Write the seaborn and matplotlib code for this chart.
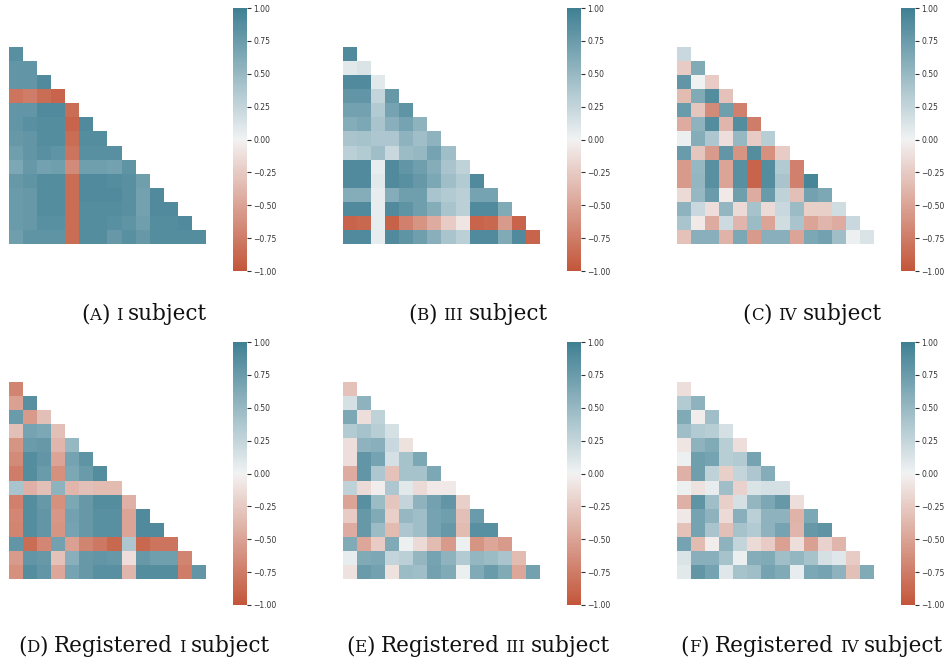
import numpy as np
import pandas as pd
import matplotlib
matplotlib.use("Agg")
import matplotlib.pyplot as plt
import seaborn as sns
from matplotlib.offsetbox import TextArea, HPacker, AnchoredOffsetbox, DrawingArea

# ---- data: lower-triangle rows (row i holds correlations with columns 0..i-1) ----
subject_i = [
    [0.85],
    [0.80, 0.80],
    [0.80, 0.80, 0.90],
    [-0.80, -0.75, -0.85, -0.90],
    [0.80, 0.80, 0.90, 0.90, -0.85],
    [0.80, 0.85, 0.88, 0.88, -0.90, 0.90],
    [0.78, 0.80, 0.88, 0.88, -0.85, 0.88, 0.88],
    [0.72, 0.80, 0.85, 0.82, -0.80, 0.85, 0.85, 0.85],
    [0.65, 0.78, 0.70, 0.72, -0.65, 0.72, 0.72, 0.70, 0.82],
    [0.78, 0.82, 0.88, 0.88, -0.85, 0.90, 0.90, 0.88, 0.85, 0.72],
    [0.75, 0.78, 0.88, 0.88, -0.85, 0.90, 0.90, 0.90, 0.85, 0.70, 0.90],
    [0.75, 0.78, 0.88, 0.88, -0.85, 0.88, 0.88, 0.88, 0.85, 0.70, 0.90, 0.90],
    [0.75, 0.78, 0.85, 0.85, -0.85, 0.88, 0.88, 0.85, 0.82, 0.72, 0.88, 0.88, 0.90],
    [0.72, 0.82, 0.82, 0.82, -0.85, 0.88, 0.88, 0.78, 0.85, 0.78, 0.88, 0.88, 0.88, 0.88],
]
subject_iii = [
    [0.90],
    [0.08, 0.12],
    [0.90, 0.90, 0.08],
    [0.80, 0.80, 0.25, 0.78],
    [0.70, 0.70, 0.35, 0.68, 0.82],
    [0.60, 0.65, 0.40, 0.58, 0.68, 0.55],
    [0.40, 0.42, 0.38, 0.38, 0.55, 0.45, 0.55],
    [0.30, 0.35, 0.45, 0.22, 0.48, 0.50, 0.68, 0.45],
    [0.90, 0.90, 0.05, 0.90, 0.80, 0.72, 0.60, 0.40, 0.28],
    [0.90, 0.90, 0.08, 0.90, 0.85, 0.78, 0.65, 0.45, 0.35, 0.90],
    [0.60, 0.60, 0.05, 0.60, 0.72, 0.72, 0.40, 0.35, 0.30, 0.68, 0.68],
    [0.90, 0.90, 0.05, 0.90, 0.82, 0.72, 0.60, 0.40, 0.30, 0.90, 0.90, 0.62],
    [-0.90, -0.88, 0.05, -0.92, -0.72, -0.60, -0.45, -0.25, -0.08, -0.90, -0.88, -0.55, -0.90],
    [0.90, 0.90, 0.05, 0.90, 0.82, 0.72, 0.58, 0.40, 0.30, 0.90, 0.90, 0.62, 0.90, -0.90],
]
subject_iv = [
    [0.22],
    [-0.25, 0.62],
    [0.80, 0.00, -0.25],
    [-0.35, 0.62, 0.88, -0.30],
    [0.75, -0.28, -0.65, 0.72, -0.72],
    [-0.45, 0.55, 0.88, -0.38, 0.88, -0.75],
    [0.03, 0.60, 0.38, -0.12, 0.50, -0.25, 0.32],
    [0.75, -0.28, -0.55, 0.80, -0.60, 0.88, -0.62, -0.25],
    [-0.55, 0.50, 0.85, -0.50, 0.85, -0.90, 0.88, 0.35, -0.72],
    [-0.55, 0.52, 0.85, -0.50, 0.85, -0.90, 0.88, 0.40, -0.72, 0.95],
    [-0.15, 0.50, 0.75, -0.05, 0.72, -0.45, 0.75, 0.28, -0.32, 0.70, 0.65],
    [0.55, 0.22, -0.12, 0.52, -0.15, 0.42, -0.15, 0.22, 0.48, -0.22, -0.22, 0.18],
    [0.40, -0.05, -0.45, 0.20, -0.38, 0.48, -0.50, 0.18, 0.40, -0.50, -0.38, -0.45, 0.22],
    [-0.30, 0.58, 0.58, -0.40, 0.65, -0.55, 0.58, 0.58, -0.50, 0.65, 0.70, 0.45, 0.02, 0.12],
]
registered_i = [
    [-0.70],
    [-0.52, 0.85],
    [0.75, -0.55, -0.32],
    [-0.32, 0.68, 0.65, -0.32],
    [-0.60, 0.75, 0.78, -0.38, 0.50],
    [-0.65, 0.88, 0.80, -0.50, 0.68, 0.82],
    [-0.75, 0.88, 0.75, -0.62, 0.65, 0.75, 0.88],
    [0.40, -0.42, -0.32, 0.55, -0.38, -0.32, -0.35, -0.35],
    [-0.72, 0.88, 0.78, -0.62, 0.65, 0.78, 0.88, 0.88, -0.42],
    [-0.68, 0.88, 0.80, -0.58, 0.70, 0.78, 0.85, 0.85, -0.50, 0.90],
    [-0.70, 0.88, 0.80, -0.60, 0.68, 0.78, 0.85, 0.85, -0.50, 0.90, 0.90],
    [0.80, -0.85, -0.68, 0.70, -0.52, -0.70, -0.78, -0.88, 0.38, -0.88, -0.80, -0.80],
    [-0.55, 0.80, 0.78, -0.30, 0.58, 0.78, 0.80, 0.78, -0.12, 0.78, 0.72, 0.72, -0.70],
    [-0.62, 0.88, 0.80, -0.48, 0.68, 0.78, 0.85, 0.85, -0.38, 0.88, 0.88, 0.88, -0.75, 0.80],
]
registered_iii = [
    [-0.30],
    [0.15, 0.55],
    [0.65, -0.12, 0.28],
    [0.35, 0.42, 0.32, 0.15],
    [-0.12, 0.55, 0.58, 0.22, -0.10],
    [-0.12, 0.80, 0.68, 0.15, 0.42, 0.65],
    [-0.45, 0.80, 0.38, -0.30, 0.42, 0.42, 0.65],
    [0.28, -0.15, -0.03, 0.38, 0.08, -0.15, -0.05, -0.05],
    [-0.50, 0.85, 0.48, -0.28, 0.25, 0.55, 0.70, 0.80, -0.22],
    [-0.25, 0.78, 0.62, -0.22, 0.50, 0.45, 0.68, 0.72, -0.32, 0.75],
    [-0.45, 0.78, 0.48, -0.35, 0.38, 0.45, 0.68, 0.78, -0.35, 0.85, 0.85],
    [0.62, -0.48, -0.25, 0.62, 0.02, -0.15, -0.35, -0.55, 0.02, -0.60, -0.48, -0.55],
    [0.05, 0.62, 0.65, 0.25, 0.30, 0.52, 0.68, 0.55, 0.35, 0.52, 0.48, 0.40, -0.35],
    [-0.10, 0.75, 0.70, -0.10, 0.48, 0.45, 0.70, 0.62, 0.03, 0.62, 0.75, 0.62, -0.48, 0.70],
]
registered_iv = [
    [-0.12],
    [0.35, 0.55],
    [0.62, -0.03, 0.45],
    [0.45, 0.35, 0.32, 0.15],
    [-0.08, 0.55, 0.62, 0.32, -0.12],
    [0.02, 0.72, 0.68, 0.32, 0.35, 0.68],
    [-0.42, 0.72, 0.28, -0.22, 0.25, 0.38, 0.60],
    [0.02, -0.10, 0.05, 0.45, -0.20, 0.12, 0.15, 0.15],
    [-0.42, 0.82, 0.45, -0.22, 0.15, 0.52, 0.65, 0.78, -0.12],
    [-0.06, 0.68, 0.55, -0.15, 0.58, 0.30, 0.55, 0.55, -0.40, 0.65],
    [-0.30, 0.68, 0.40, -0.32, 0.42, 0.35, 0.55, 0.68, -0.38, 0.78, 0.82],
    [0.68, -0.35, -0.03, 0.55, 0.25, -0.15, -0.25, -0.52, -0.12, -0.52, -0.20, -0.38],
    [0.12, 0.58, 0.58, 0.42, 0.03, 0.60, 0.62, 0.45, 0.52, 0.42, 0.15, 0.10, -0.25],
    [0.08, 0.80, 0.68, 0.10, 0.42, 0.45, 0.68, 0.62, 0.05, 0.65, 0.68, 0.55, -0.32, 0.62],
]

panels = [subject_i, subject_iii, subject_iv, registered_i, registered_iii, registered_iv]
# caption pieces: (text, small-caps flag); None = word space
captions = [
    [("(", 0), ("A", 1), (")", 0), None, ("I", 1), None, ("subject", 0)],
    [("(", 0), ("B", 1), (")", 0), None, ("III", 1), None, ("subject", 0)],
    [("(", 0), ("C", 1), (")", 0), None, ("IV", 1), None, ("subject", 0)],
    [("(", 0), ("D", 1), (")", 0), None, ("Registered", 0), None, ("I", 1), None, ("subject", 0)],
    [("(", 0), ("E", 1), (")", 0), None, ("Registered", 0), None, ("III", 1), None, ("subject", 0)],
    [("(", 0), ("F", 1), (")", 0), None, ("Registered", 0), None, ("IV", 1), None, ("subject", 0)],
]
cbar_ticks = [-1.0, -0.75, -0.5, -0.25, 0.0, 0.25, 0.5, 0.75, 1.0]


def full_matrix(rows):
    n = len(rows) + 1
    m = np.eye(n)
    for i, r in enumerate(rows, start=1):
        for j, v in enumerate(r):
            m[i, j] = v
            m[j, i] = v
    return pd.DataFrame(m)


W, H = 944, 665
fig = plt.figure(figsize=(W / 100, H / 100), dpi=100)
cmap = sns.diverging_palette(20, 220, as_cmap=True)


def px_axes(x0, y0, x1, y1):
    return fig.add_axes([x0 / W, 1 - y1 / H, (x1 - x0) / W, (y1 - y0) / H])


col_x = [9, 343, 677]
cbar_x = [233, 567, 901]
row_y = [33, 368]
cbar_y = [(8, 271), (342, 605)]
cap_cx = [144, 478, 812]
cap_cy = [314, 646]

BIG, SMALL, FAMILY = 15.5, 12.0, "DejaVu Serif"

for k, rows in enumerate(panels):
    r, c = divmod(k, 3)
    df = full_matrix(rows)
    mask = np.triu(np.ones_like(df, dtype=bool))
    ax = px_axes(col_x[c], row_y[r], col_x[c] + 211, row_y[r] + 211)
    cax = px_axes(cbar_x[c], cbar_y[r][0], cbar_x[c] + 14, cbar_y[r][1])
    sns.heatmap(df, mask=mask, cmap=cmap, vmin=-1, vmax=1, center=0,
                square=True, linewidths=0, ax=ax, cbar_ax=cax,
                xticklabels=False, yticklabels=False,
                cbar_kws={"ticks": cbar_ticks})
    ax.tick_params(left=False, bottom=False)
    cax.set_yticks(cbar_ticks)
    cax.set_yticklabels([f"{t:.2f}".replace("-", "\u2212") for t in cbar_ticks])
    cax.tick_params(labelsize=5.5, length=3, width=0.8, colors="#333333",
                    pad=1.5)
    for s in cax.spines.values():
        s.set_visible(False)

    children = []
    for piece in captions[k]:
        if piece is None:
            children.append(DrawingArea(4.2, 1))
            continue
        text, small = piece
        children.append(TextArea(text, textprops=dict(
            fontsize=SMALL if small else BIG, family=FAMILY,
            color="#111111")))
    box = HPacker(children=children, align="baseline", pad=0, sep=0)
    ab = AnchoredOffsetbox(loc="center", child=box, frameon=False, pad=0,
                           borderpad=0,
                           bbox_to_anchor=(cap_cx[c] / W, 1 - cap_cy[r] / H),
                           bbox_transform=fig.transFigure)
    fig.add_artist(ab)

fig.savefig("out.png", dpi=100)
